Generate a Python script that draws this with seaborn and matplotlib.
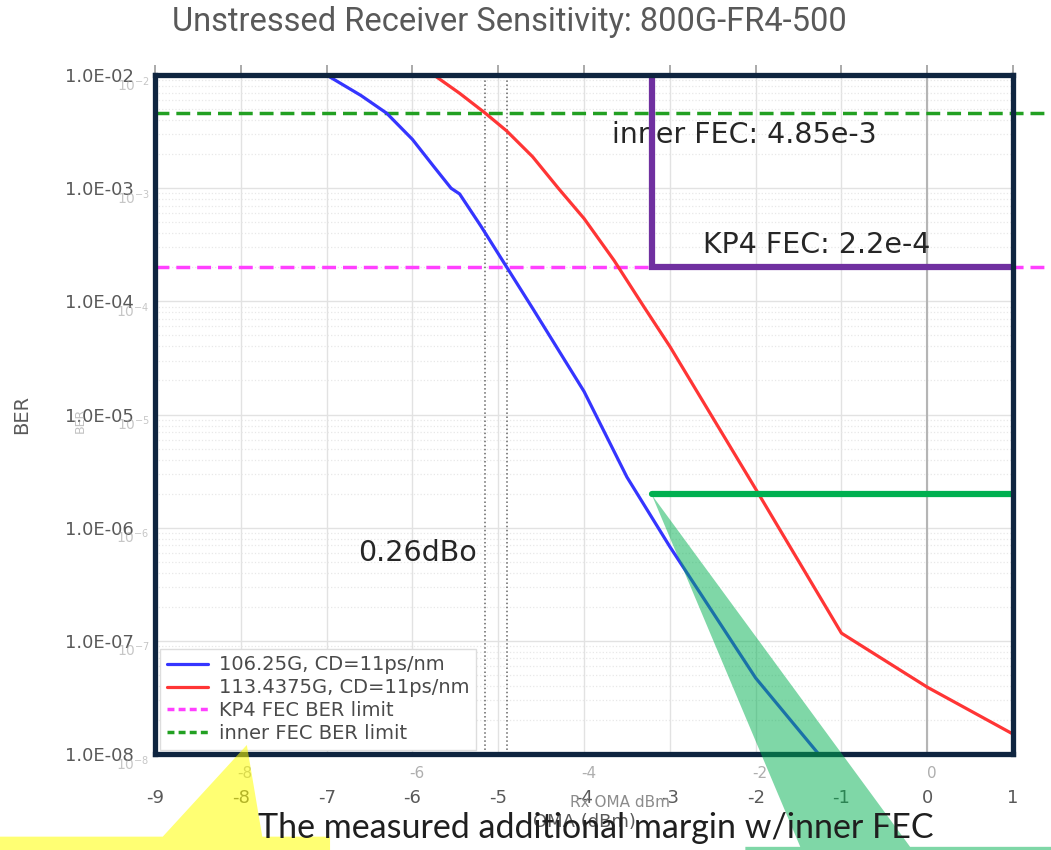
import numpy as np
import pandas as pd
import matplotlib.pyplot as plt
import seaborn as sns
from matplotlib.patches import Polygon
from matplotlib.ticker import NullFormatter
from matplotlib.lines import Line2D

sns.set_theme(style="white")
plt.rcParams["font.family"] = ["DejaVu Sans"]

# --- data ---
oma_106 = [-7.0, -6.6, -6.3, -6.0, -5.75, -5.55, -5.45, -5.2, -4.9, -4.6, -4.0, -3.5, -3.0, -2.0, -1.2]
ber_106 = [1.0e-2, 6.6e-3, 4.6e-3, 2.7e-3, 1.55e-3, 1.0e-3, 8.9e-4, 4.6e-4, 2.0e-4, 8.7e-5,
           1.6e-5, 2.8e-6, 6.8e-7, 4.7e-8, 8.7e-9]
oma_113 = [-5.75, -5.45, -5.15, -4.9, -4.6, -4.3, -4.0, -3.65, -3.3, -3.0, -2.0, -1.0, 0.0, 1.0]
ber_113 = [1.0e-2, 6.9e-3, 4.6e-3, 3.2e-3, 1.9e-3, 1.0e-3, 5.4e-4, 2.3e-4, 8.9e-5, 4.0e-5,
           2.2e-6, 1.17e-7, 3.9e-8, 1.5e-8]
series_names = ["106.25G, CD=11ps/nm", "113.4375G, CD=11ps/nm", "KP4 FEC BER limit", "inner FEC BER limit"]

kp4_limit = 2.0e-4
inner_limit = 4.6e-3
sens_marks = [-5.16, -4.90]          # dotted verticals, 0.26 dB apart
bracket_x = -3.21
margin_level = 2.0e-6

x_ticks = list(range(-9, 2))
y_ticks = [1e-2, 1e-3, 1e-4, 1e-5, 1e-6, 1e-7, 1e-8]
y_labels = ["1.0E-02", "1.0E-03", "1.0E-04", "1.0E-05", "1.0E-06", "1.0E-07", "1.0E-08"]
inner_x_ticks = [-8, -6, -4, -2, 0]

# callout shapes (x in dBm, y as BER exponent)
yellow_x = [-10.9, -8.91, -7.93, -7.75, -6.96, -6.96, -10.9]
yellow_e = [-8.73, -8.73, -7.92, -8.73, -8.73, -9.0, -9.0]
green_x = [-3.21, -0.20, 1.55, 1.55, -2.12, -2.12, -1.48]
green_e = [-5.71, -8.82, -8.82, -9.0, -9.0, -8.82, -8.82]

NAVY = "#0f2540"
GRAY = "#595959"

fig = plt.figure(figsize=(10.51, 8.5), dpi=100)
ax = fig.add_axes([0.1475, 0.1129, 0.8164, 0.7988])

df106 = pd.DataFrame({"oma": oma_106, "ber": ber_106})
df113 = pd.DataFrame({"oma": oma_113, "ber": ber_113})
sns.lineplot(data=df106, x="oma", y="ber", color="#3535ff", lw=2.3, ax=ax, sort=False, zorder=4)
sns.lineplot(data=df113, x="oma", y="ber", color="#ff3535", lw=2.3, ax=ax, sort=False, zorder=4)

ax.set_yscale("log")
ax.set_xlim(-9, 1)
ax.set_ylim(1e-8, 1e-2)

# FEC limits run a bit past the frame
ax.plot([-9, 1.45], [kp4_limit, kp4_limit], ls=(0, (4, 2)), color="#ff40ff", lw=2.5, clip_on=False, zorder=3)
ax.plot([-9, 1.45], [inner_limit, inner_limit], ls=(0, (4, 2)), color="#22a022", lw=2.5, clip_on=False, zorder=3)

for xv in sens_marks:
    ax.axvline(xv, color="#666666", ls=":", lw=1.1, zorder=2)
ax.axvline(0, color="#b5b5b5", lw=1.5, zorder=2)

# grid
ax.grid(True, which="major", color="#e2e2e2", lw=1)
ax.grid(True, which="minor", axis="y", color="#e8e8e8", ls=":", lw=0.9)
ax.yaxis.set_minor_formatter(NullFormatter())

ax.set_xticks(x_ticks)
ax.set_xticklabels([str(v) for v in x_ticks])
ax.set_yticks(y_ticks)
ax.set_yticklabels(y_labels)
ax.tick_params(axis="y", which="both", length=0, pad=15, labelsize=13, labelcolor=GRAY)
ax.tick_params(axis="x", which="both", bottom=False, top=True, length=7, color="#a0a0a0",
               pad=18, labelsize=13, labelcolor=GRAY)
ax.set_xlabel("")
ax.set_ylabel("")

for s in ax.spines.values():
    s.set_color(NAVY)
    s.set_linewidth(3.8)
    s.set_zorder(10)

# brackets
ax.plot([bracket_x, bracket_x, 1.0], [1e-2, kp4_limit, kp4_limit], color="#7030a0", lw=4.5,
        solid_joinstyle="miter", zorder=6)
ax.plot([bracket_x, 1.0], [margin_level, margin_level], color="#00b050", lw=4.5,
        solid_capstyle="round", zorder=6)

# annotations
ax.text(-3.67, 10 ** -2.53, "inner FEC: 4.85e-3", fontsize=20.5, color="#262626", va="center", zorder=5)
ax.text(-2.61, 10 ** -3.50, "KP4 FEC: 2.2e-4", fontsize=20.5, color="#262626", va="center", zorder=5)
ax.text(-6.63, 10 ** -6.22, "0.26dBo", fontsize=20.5, color="#262626", va="center", zorder=5)

# legend
handles = [
    Line2D([], [], color="#3535ff", lw=2.3),
    Line2D([], [], color="#ff3535", lw=2.3),
    Line2D([], [], color="#ff40ff", lw=2.5, ls=(0, (2, 1.2))),
    Line2D([], [], color="#22a022", lw=2.5, ls=(0, (2, 1.2))),
]
leg = ax.legend(handles, series_names, loc="lower left", bbox_to_anchor=(0.006, 0.006),
                borderaxespad=0, fontsize=14, labelcolor="#4a4a4a", frameon=True,
                fancybox=False, edgecolor="#dddddd", framealpha=1, handlelength=2.1,
                handletextpad=0.55, labelspacing=0.2, borderpad=0.35)
leg.set_zorder(8)

# faint remnants of the pasted plot's own labels
for v in inner_x_ticks:
    ax.text(v + 0.05, -0.028, str(v), transform=ax.get_xaxis_transform(), ha="center", va="center",
            color="#8c8c8c", fontsize=11, alpha=0.7)
for yv in y_ticks:
    e = int(round(np.log10(yv)))
    ax.text(-0.006, yv, r"$10^{%d}$" % e, transform=ax.get_yaxis_transform(), ha="right", va="top",
            color="#a0a0a0", fontsize=10, alpha=0.6)
ax.text(-3.58, -0.071, "Rx OMA dBm", transform=ax.get_xaxis_transform(), ha="center", va="center",
        color="#8c8c8c", fontsize=11)
ax.text(0.5, -0.100, "OMA (dBm)", transform=ax.transAxes, ha="center", va="center", color=GRAY, fontsize=13)
fig.text(0.076, 0.505, "BER", rotation=90, ha="center", va="center", color="#a8a8a8", fontsize=9, alpha=0.7)

# callouts
ax.add_patch(Polygon(np.column_stack([yellow_x, 10.0 ** np.array(yellow_e)]), closed=True,
                     facecolor="#ffff00", alpha=0.55, edgecolor="none", clip_on=False, zorder=11))
ax.add_patch(Polygon(np.column_stack([green_x, 10.0 ** np.array(green_e)]), closed=True,
                     facecolor="#00b050", alpha=0.5, edgecolor="none", clip_on=False, zorder=11))

fig.text(0.485, 0.974, "Unstressed Receiver Sensitivity: 800G-FR4-500", ha="center", va="center",
         fontsize=23.5, color=GRAY, family=["Roboto", "DejaVu Sans"])
fig.text(0.021, 0.512, "BER", rotation=90, ha="center", va="center", fontsize=14, color=GRAY)
fig.text(0.567, 0.026, "The measured additional margin w/inner FEC", ha="center", va="center",
         fontsize=24.5, color="#1f1f1f", family=["Lato", "DejaVu Sans"])

fig.savefig("out.png", dpi=100)
